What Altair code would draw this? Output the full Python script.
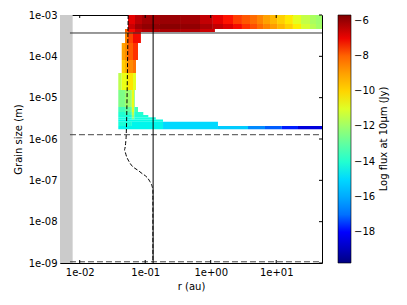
import altair as alt
import pandas as pd
import numpy as np

# ---------------- data ----------------
# heat-map rows (grain size edges in m, top -> bottom)
row_a_edges = [1e-3, 6.05e-4, 4.58e-4, 3.88e-4, 2.10e-4, 8.15e-5, 3.95e-5, 1.53e-5,
               5.94e-6, 4.50e-6, 3.81e-6, 3.35e-6, 2.96e-6, 2.62e-6, 2.06e-6, 1.72e-6]
top_r = [0.0546, 0.0698, 0.0893, 0.168, 0.340, 0.686, 1.08, 1.54, 2.19, 3.00, 3.98,
         5.09, 6.29, 8.04, 10.3, 13.6, 18.0, 23.9, 32.8, 40.5, 50]
row_r_edges = [
    top_r,
    top_r,
    [0.0491, 0.0546, 0.0698, 0.0893, 0.168, 0.340, 0.686, 1.16],
    [0.0491, 0.0546, 0.0651, 0.0860],
    [0.0438, 0.0491, 0.0546, 0.0651, 0.0776],
    [0.0438, 0.0491, 0.0546, 0.0651, 0.0723],
    [0.0388, 0.0438, 0.0546, 0.0651, 0.0723],
    [0.0388, 0.0491, 0.0626, 0.0680, 0.0698],
    [0.0388, 0.0491, 0.0626, 0.0680, 0.0776],
    [0.0388, 0.0491, 0.0626, 0.0680, 0.0935],
    [0.0388, 0.0626, 0.0680, 0.1115],
    [0.0388, 0.0626, 0.0680, 0.145],
    [0.0388, 0.187],
    [0.0388, 0.0626, 0.187, 1.29],
    [0.0388, 0.187, 1.29, 3.71, 6.74, 12.2, 21.5, 50],
]
row_values = [
    [-6.9, -6.4, -6.1, -6.0, -6.1, -6.5, -6.9, -7.2, -7.5, -7.8, -8.1, -8.5, -9.0, -9.4,
     -9.9, -10.4, -10.9, -11.4, -11.8, -12.0],
    [-6.6, -6.1, -5.9, -5.8, -5.9, -6.2, -6.5, -6.8, -7.1, -7.4, -7.7, -8.1, -8.5, -8.9,
     -9.4, -9.9, -10.5, -11.1, -11.6, -11.9],
    [-8.0, -7.1, -6.6, -6.3, -6.2, -6.3, -6.6],
    [-8.5, -7.6, -7.1],
    [-9.0, -8.6, -7.9, -7.4],
    [-9.8, -9.3, -8.6, -8.2],
    [-11.5, -10.8, -10.3, -10.9],
    [-12.5, -12.0, -10.8, -12.5],
    [-13.5, -13.0, -11.0, -13.5],
    [-14.0, -13.5, -11.5, -14.0],
    [-14.2, -12.0, -14.2],
    [-14.4, -12.5, -14.4],
    [-14.5],
    [-14.2, -14.6, -15.0],
    [-14.6, -15.0, -15.3, -16.6, -17.3, -17.9, -18.6],
]

# inner-radius grey band
grey_r = [0.005, 0.0078]
# horizontal reference lines (grain size, m)
hline_solid_a = [3.67e-4]
hline_dashed_a = [1.27e-6, 1.07e-9]
hline_r = [0.0071, 50]
# vertical reference line (au)
vline_r = [0.132]
# dashed curve
curve_r = [0.0549, 0.0509, 0.0478, 0.0521, 0.0586, 0.0832, 0.118, 0.131, 0.131]
curve_a = [1e-3, 1e-6, 5.4e-7, 3.7e-7, 2.6e-7, 1.6e-7, 9.3e-8, 5.9e-8, 1.07e-9]

x_ticks = [0.01, 0.1, 1, 10]
y_ticks = [1e-9, 1e-8, 1e-7, 1e-6, 1e-5, 1e-4, 1e-3]
cbar_ticks = [-18, -16, -14, -12, -10, -8, -6]
cbar_title = "Log flux at 10\u03bcm (Jy)"
vmin, vmax = -19.75, -5.67

# ---------------- build tables ----------------
cells = []
for i, (edges, vals) in enumerate(zip(row_r_edges, row_values)):
    a_hi, a_lo = row_a_edges[i], row_a_edges[i + 1]
    for j, v in enumerate(vals):
        cells.append({"r": edges[j], "r2": edges[j + 1], "a": a_lo, "a2": a_hi, "v": v})
heat = pd.DataFrame(cells)

# jet colormap stops
def jet(t):
    r = np.interp(t, [0, 0.35, 0.66, 0.89, 1], [0, 0, 1, 1, 0.5])
    g = np.interp(t, [0, 0.125, 0.375, 0.64, 0.91, 1], [0, 0, 1, 1, 0, 0])
    b = np.interp(t, [0, 0.11, 0.34, 0.65, 1], [0.5, 1, 1, 0, 0])
    return "#%02x%02x%02x" % (int(round(r * 255)), int(round(g * 255)), int(round(b * 255)))

stops = [0, 0.11, 0.125, 0.34, 0.35, 0.375, 0.64, 0.65, 0.66, 0.89, 0.91, 1.0]
c_domain = [vmin + t * (vmax - vmin) for t in stops]
c_range = [jet(t) for t in stops]

xs = alt.Scale(type="log", domain=[0.005, 50], nice=False)
ys = alt.Scale(type="log", domain=[1e-9, 1e-3], nice=False)

lab = ("'1e' + (round(log(datum.value)/LN10) < 0 ? '-' : '+') + "
       "(abs(round(log(datum.value)/LN10)) < 10 ? '0' : '') + abs(round(log(datum.value)/LN10))")

xaxis = alt.Axis(values=x_ticks, labelExpr=lab, title="r (au)", grid=False, domain=False,
                 tickSize=0, labelPadding=4, titlePadding=4, labelFlush=False)
yaxis = alt.Axis(values=y_ticks, labelExpr=lab, title="Grain size (m)", grid=False, domain=False,
                 tickSize=0, labelPadding=3, titlePadding=5)

grey_df = pd.DataFrame({"r": [grey_r[0]], "r2": [grey_r[1]], "a": [1e-9], "a2": [1e-3]})
grey = alt.Chart(grey_df).mark_rect(color="#cbcbcb").encode(
    x=alt.X("r:Q", scale=xs, axis=xaxis), x2="r2", y=alt.Y("a:Q", scale=ys, axis=yaxis), y2="a2")

hm = alt.Chart(heat).mark_rect(strokeWidth=0).encode(
    x=alt.X("r:Q", scale=xs), x2="r2", y=alt.Y("a:Q", scale=ys), y2="a2",
    color=alt.Color("v:Q", scale=alt.Scale(domain=c_domain, range=c_range, clamp=True),
                    legend=alt.Legend(
                        title=None, orient="none", legendX=278, legendY=0,
                        direction="vertical", gradientLength=248, gradientThickness=13,
                        gradientStrokeColor="black", gradientStrokeWidth=0.6,
                        values=cbar_ticks, labelExpr="replace(datum.label, '-', '\u2212')",
                        labelFontSize=10, labelOffset=3, labelFont="DejaVu Sans",
                        labelColor="black")))

hs_df = pd.DataFrame({"a": hline_solid_a, "r": hline_r[0], "r2": hline_r[1]})
hs = alt.Chart(hs_df).mark_rule(color="#333333", strokeWidth=1).encode(
    x=alt.X("r:Q", scale=xs), x2="r2", y=alt.Y("a:Q", scale=ys))

hd_df = pd.DataFrame({"a": hline_dashed_a, "r": hline_r[0], "r2": hline_r[1]})
hd = alt.Chart(hd_df).mark_rule(color="#444444", strokeWidth=1, strokeDash=[6, 3]).encode(
    x=alt.X("r:Q", scale=xs), x2="r2", y=alt.Y("a:Q", scale=ys))

vl_df = pd.DataFrame({"r": vline_r, "a": [1e-9], "a2": [1e-3]})
vl = alt.Chart(vl_df).mark_rule(color="black", strokeWidth=1).encode(
    x=alt.X("r:Q", scale=xs), y=alt.Y("a:Q", scale=ys), y2="a2")

cv_df = pd.DataFrame({"r": curve_r, "a": curve_a, "i": list(range(len(curve_r)))})
cv = alt.Chart(cv_df).mark_line(color="black", strokeWidth=1, strokeDash=[4, 2],
                                interpolate="monotone").encode(
    x=alt.X("r:Q", scale=xs), y=alt.Y("a:Q", scale=ys), order="i:Q")

# inward major ticks on top/bottom (x) and right (y) edges
xt_df = pd.DataFrame({"r": x_ticks})
xt_top = alt.Chart(xt_df).mark_rule(color="black", strokeWidth=1).encode(
    x=alt.X("r:Q", scale=xs), y=alt.value(0), y2=alt.value(3))
xt_bot = alt.Chart(xt_df).mark_rule(color="black", strokeWidth=1).encode(
    x=alt.X("r:Q", scale=xs), y=alt.value(248), y2=alt.value(245))
yt_df = pd.DataFrame({"a": y_ticks})
yt_right = alt.Chart(yt_df).mark_rule(color="black", strokeWidth=1).encode(
    y=alt.Y("a:Q", scale=ys), x=alt.value(262), x2=alt.value(259))

ttl = alt.Chart(pd.DataFrame({"t": [cbar_title]})).mark_text(
    angle=270, font="DejaVu Sans", fontSize=10, color="black", align="center",
    baseline="middle").encode(text="t:N", x=alt.value(324), y=alt.value(124))

chart = alt.layer(grey, hm, hs, hd, vl, cv, xt_top, xt_bot, yt_right, ttl).properties(
    width=262, height=248,
    autosize=alt.AutoSizeParams(type="none"),
    padding={"left": 52, "top": 7, "right": 77, "bottom": 34},
).configure_view(stroke="black", strokeWidth=1).configure_axis(
    labelFont="DejaVu Sans", titleFont="DejaVu Sans", labelFontSize=10, titleFontSize=10,
    labelColor="black", titleColor="black", titleFontWeight="normal")

chart.save("out.html", embed_options={"renderer": "svg", "actions": False})
